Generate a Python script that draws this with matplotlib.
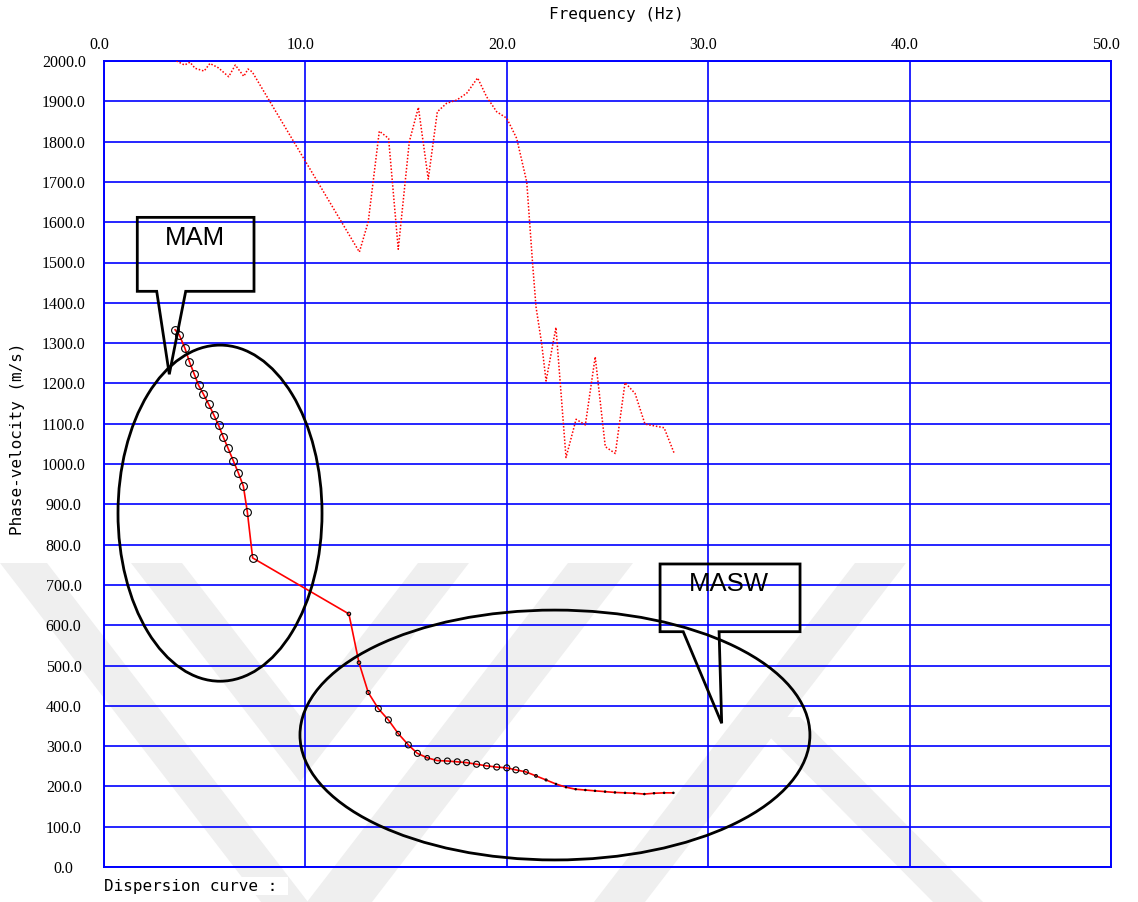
import matplotlib
matplotlib.use("Agg")
import matplotlib.pyplot as plt
from matplotlib.patches import Ellipse, Polygon
from matplotlib.transforms import ScaledTranslation

# ---------------- data ----------------
mam_freq = [3.53, 3.74, 4.02, 4.24, 4.48, 4.70, 4.93, 5.19, 5.46, 5.69, 5.92,
            6.16, 6.42, 6.67, 6.92, 7.12, 7.38]
mam_vel = [1333, 1320, 1287, 1254, 1223, 1195, 1174, 1149, 1121, 1096, 1067,
           1039, 1008, 978, 945, 880, 767]

masw_freq = [12.16, 12.66, 13.12, 13.62, 14.12, 14.61, 15.11, 15.56, 16.05, 16.55,
             17.05, 17.54, 18.00, 18.50, 19.00, 19.50, 20.00, 20.45, 20.95, 21.45,
             21.95, 22.44, 22.94, 23.42, 23.90, 24.38, 24.88, 25.37, 25.87, 26.33,
             26.83, 27.31, 27.81, 28.27]
masw_vel = [628, 507, 433, 393, 365, 331, 303, 282, 271, 264,
            263, 261, 259, 255, 251, 248, 246, 241, 236, 226,
            216, 206, 198, 193, 191, 189, 187, 185, 184, 183,
            181, 183, 184, 184]

dot_freq = [3.60, 4.00, 4.27, 4.52, 4.97, 5.26, 5.68, 6.19, 6.52, 6.94, 7.15, 7.36,
            12.68, 13.12, 13.67, 14.13, 14.61, 15.16, 15.61, 16.10, 16.55, 17.01,
            17.51, 18.01, 18.55, 19.00, 19.50, 20.00, 20.49, 20.99, 21.28, 21.45,
            21.73, 21.95, 22.44, 22.94, 23.44, 23.90, 24.39, 24.89, 25.39, 25.87,
            26.37, 26.86, 27.81, 28.30]
dot_vel = [2000, 1990, 1997, 1982, 1975, 1994, 1983, 1961, 1990, 1962, 1980, 1973,
           1526, 1601, 1826, 1808, 1533, 1800, 1885, 1707, 1874, 1895,
           1903, 1920, 1958, 1911, 1874, 1858, 1808, 1700, 1498, 1390,
           1299, 1206, 1339, 1016, 1111, 1097, 1266, 1043, 1026, 1202,
           1175, 1099, 1090, 1028]

x_ticks = [0, 10, 20, 30, 40, 50]
x_ticklabels = ["0.0", "10.0", "20.0", "30.0", "40.0", "50.0"]
y_ticks = list(range(0, 2001, 100))
y_ticklabels = [f"{v:.1f}" for v in y_ticks]

# marker diameters (px) for MASW points -- style only
masw_marker_px = [3.5, 3.5, 4, 6, 6, 4.5, 6, 6, 4.5, 6,
                  6, 6, 6, 6, 6, 6, 6, 6, 4.7, 2.7,
                  2, 1.4, 1.4, 1.4, 1.4, 1.4, 1.4, 1.4, 1.4, 1.4,
                  1.4, 1.4, 1.4, 1.4]

W, H = 1138, 902
fig = plt.figure(figsize=(W / 100, H / 100), dpi=100)
fig.patch.set_facecolor("white")

def fx(px):
    return px / W

def fy(py):
    return 1 - py / H

# ---------------- watermark (background) ----------------
wm_color = "#efefef"
bands = [
    [(0, 563), (47, 563), (308, 902), (261, 902)],
    [(131, 563), (182, 563), (300, 716), (418, 563), (469, 563), (300, 782)],
    [(568, 563), (633, 563), (372, 902), (307, 902)],
    [(855, 563), (906, 563), (645, 902), (594, 902)],
    [(750, 717), (800, 717), (983, 902), (933, 902)],
]
for b in bands:
    fig.add_artist(Polygon([(fx(x), fy(y)) for x, y in b], closed=True,
                           facecolor=wm_color, edgecolor="none",
                           transform=fig.transFigure, zorder=-10))

# ---------------- axes ----------------
ax = fig.add_axes([104 / W, 1 - 867 / H, 1007 / W, 806 / H])
ax.set_facecolor("none")
ax.set_xlim(0, 50)
ax.set_ylim(0, 2000)

ax.set_xticks(x_ticks)
ax.set_xticklabels(x_ticklabels)
ax.set_yticks(y_ticks)
ax.set_yticklabels(y_ticklabels)
ax.xaxis.tick_top()
ax.tick_params(axis="both", length=0, labelsize=11.5)
ax.tick_params(axis="x", pad=6)
ax.tick_params(axis="y", pad=29)
for lab in ax.get_xticklabels() + ax.get_yticklabels():
    lab.set_fontfamily("Liberation Serif")
for lab in ax.get_yticklabels():
    lab.set_horizontalalignment("center")
offset = ScaledTranslation(-5 / 100, 0, fig.dpi_scale_trans)
for lab in ax.get_xticklabels():
    lab.set_transform(lab.get_transform() + offset)

ax.grid(True, color="#0000ff", linewidth=1.2)
ax.set_axisbelow(True)
for sp in ax.spines.values():
    sp.set_color("#0000ff")
    sp.set_linewidth(1.4)

# dotted curve
ax.plot(dot_freq, dot_vel, color="red", linestyle=(0, (1, 1.2)), linewidth=1.1,
        zorder=3, clip_on=True)

# main dispersion curve
all_f = mam_freq + masw_freq
all_v = mam_vel + masw_vel
ax.plot(all_f, all_v, color="red", linewidth=1.2, zorder=4)
ax.plot(mam_freq, mam_vel, linestyle="none", marker="o", markersize=5.6,
        markerfacecolor="none", markeredgecolor="black", markeredgewidth=0.8, zorder=5)
ax.scatter(masw_freq, masw_vel, s=[(d * 0.72) ** 2 for d in masw_marker_px],
           facecolors="none", edgecolors="black", linewidths=0.8, zorder=5)

# ellipses
ax.add_patch(Ellipse((5.76, 878), 10.13, 834, fill=False, edgecolor="black",
                     linewidth=2, zorder=6, clip_on=False))
ax.add_patch(Ellipse((22.39, 327.5), 25.32, 620, fill=False, edgecolor="black",
                     linewidth=2, zorder=6, clip_on=False))

# callouts
mam_callout = [(1.653, 1612), (7.448, 1612), (7.448, 1428.5), (4.057, 1428.5),
               (3.242, 1222.6), (2.617, 1428.5), (1.653, 1428.5)]
ax.add_patch(Polygon(mam_callout, closed=True, fill=False, edgecolor="black",
                     linewidth=2, zorder=7, clip_on=False, joinstyle="miter"))
ax.text(4.533, 1560, "MAM", ha="center", va="center", fontsize=18.5,
        family="Liberation Sans", zorder=8)

masw_callout = [(27.61, 751.9), (34.56, 751.9), (34.56, 583.9), (30.54, 583.9),
                (30.67, 356.6), (28.76, 583.9), (27.61, 583.9)]
ax.add_patch(Polygon(masw_callout, closed=True, fill=False, edgecolor="black",
                     linewidth=2, zorder=7, clip_on=False, joinstyle="miter"))
ax.text(31.02, 701.5, "MASW", ha="center", va="center", fontsize=18.5,
        family="Liberation Sans", zorder=8)

# axis titles
fig.text(616 / W, fy(14), "Frequency (Hz)", ha="center", va="center",
         family="DejaVu Sans Mono", fontsize=11.5)
fig.text(18 / W, fy(439), "Phase-velocity (m/s)", ha="center", va="center",
         rotation=90, family="DejaVu Sans Mono", fontsize=11.5)
fig.text(104 / W, fy(886), "Dispersion curve : ", ha="left", va="center",
         family="DejaVu Sans Mono", fontsize=11.5,
         bbox=dict(facecolor="white", edgecolor="none", pad=1))

fig.savefig("out.png", dpi=100, facecolor="white")
